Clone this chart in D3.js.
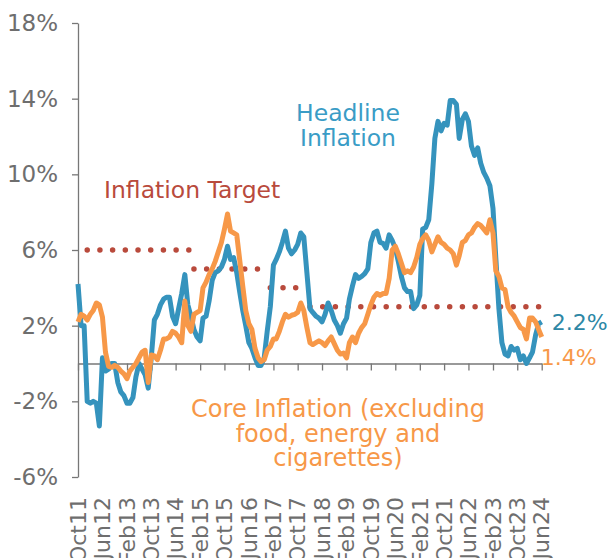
<!DOCTYPE html>
<html>
<head>
<meta charset="utf-8">
<script src="https://cdn.jsdelivr.net/npm/d3@7"></script>
<style>
body { margin: 0; background: #fff; }
text { font-family: "DejaVu Sans", sans-serif; }
</style>
</head>
<body>
<div id="chart"></div>
<script>
// monthly series, Oct 2011 .. Jun 2024 (y/y %)
var firstMonth = "2011-10";
var headline = [
    4.2, 2.0, 2.0, -2.0, -2.1, -2.0, -2.1, -3.3, 0.3, -0.4,
    -0.3, 0.0, 0.0, -1.0, -1.5, -1.7, -2.1, -2.1, -1.8, -0.7,
    0.0, -0.3, -0.6, -1.3, 0.3, 2.3, 2.6, 3.1, 3.4, 3.5,
    3.5, 2.5, 2.1, 2.9, 3.7, 4.7, 3.1, 2.5, 1.8, 1.4,
    1.2, 2.4, 2.5, 3.3, 4.4, 4.8, 4.9, 5.1, 5.5, 6.2,
    5.5, 5.6, 4.8, 3.8, 2.8, 2.0, 1.1, 0.8, 0.3, -0.1,
    -0.1, 0.3, 1.7, 3.0, 5.2, 5.5, 5.9, 6.4, 7.0, 6.1,
    5.8, 6.0, 6.3, 6.9, 6.7, 4.8, 2.9, 2.7, 2.5, 2.4,
    2.2, 2.6, 3.2, 2.8, 2.3, 2.0, 1.6, 2.1, 2.4, 3.4,
    4.1, 4.7, 4.5, 4.6, 4.75, 5.0, 6.4, 6.9, 7.0, 6.4,
    6.35, 6.1, 6.8, 6.5, 6.1, 5.4, 4.6, 4.0, 3.8, 3.8,
    2.9, 3.1, 3.6, 7.1, 7.2, 7.6, 9.5, 11.9, 12.8, 12.3,
    12.7, 12.6, 13.9, 13.9, 13.7, 11.9, 12.9, 13.2, 12.8, 11.5,
    11.0, 11.4, 10.6, 10.1, 9.8, 9.4, 8.2, 5.6, 2.9, 1.1,
    0.5, 0.4, 0.9, 0.7, 0.8, 0.2, 0.4, 0.0, 0.3, 0.6,
    1.5, 2.1, 2.2
];
var core = [
    2.2, 2.6, 2.5, 2.3, 2.6, 2.8, 3.2, 3.1, 2.45, 0.6,
    -0.15, -0.2, -0.1, -0.2, -0.4, -0.55, -0.8, -0.4, -0.2, 0.0,
    0.3, 0.6, 0.7, -1.0, 0.45, 0.4, 0.2, 0.7, 1.3, 1.3,
    1.4, 1.7, 1.6, 1.4, 1.1, 3.3, 2.0, 1.7, 2.6, 2.7,
    2.8, 4.0, 4.3, 4.7, 5.0, 5.4, 5.9, 6.4, 7.1, 7.9,
    7.0, 6.9, 6.8, 5.5, 4.1, 2.8, 2.1, 1.8, 0.8, 0.3,
    0.1, 0.2, 0.7, 0.9, 1.3, 1.3, 1.7, 2.2, 2.6, 2.45,
    2.55, 2.6, 2.7, 3.2, 2.8, 1.9, 1.1, 1.0, 1.1, 1.2,
    1.1, 0.95, 1.2, 1.4, 1.05, 0.7, 0.5, 0.55, 0.3, 1.1,
    1.4, 1.1, 1.6, 1.9, 2.1, 2.6, 3.1, 3.5, 3.7, 3.6,
    3.7, 3.7, 4.5, 6.0, 6.2, 5.8, 5.3, 4.8, 4.9, 4.8,
    5.1, 5.6, 6.3, 6.6, 6.8, 6.5, 5.9, 6.3, 6.7, 6.4,
    6.3, 6.1, 6.0, 5.8, 5.2, 5.7, 6.4, 6.5, 6.8, 6.9,
    7.2, 7.4, 7.3, 7.1, 6.9, 7.6, 6.9, 4.9, 4.6, 4.0,
    3.9, 3.0, 2.7, 2.5, 2.2, 1.9, 1.8, 1.3, 2.4, 2.4,
    2.2, 1.8, 1.4
];

// inflation target periods
var targetValues = [6, 5, 4, 3];
var targetStart = ["2012-01", "2014-12", "2017-01", "2018-02"];
var targetEnd = ["2014-11", "2016-12", "2017-12", "2024-06"];

var yTicks = [-6, -2, 2, 6, 10, 14, 18];
var xTickEvery = 8; // months between x labels

var blue = "#3593bd", orange = "#f79848", red = "#b94a3c", grey = "#777";
var width = 611, height = 558;

var parseMonth = d3.timeParse("%Y-%m");
var start = parseMonth(firstMonth);
var months = headline.map(function (d, i) { return d3.timeMonth.offset(start, i); });

var x = d3.scaleTime()
    .domain([months[0], months[months.length - 1]])
    .range([78, 541.7]);

var y = d3.scaleLinear()
    .domain([-6, 18])
    .range([477, 23]);

var svg = d3.select("#chart")
    .append("svg")
    .attr("width", width)
    .attr("height", height);

// y axis
var yAxis = svg.append("g")
    .attr("transform", "translate(78,0)")
    .call(d3.axisLeft(y).tickValues(yTicks).tickSize(6).tickSizeOuter(0).tickPadding(14)
        .tickFormat(function (d) { return d + "%"; }));
yAxis.selectAll("path, line").attr("stroke", grey).attr("stroke-width", 1.3);
yAxis.selectAll("text")
    .attr("fill", "#6e6e6e")
    .style("font-size", "23px")
    .style("font-family", "DejaVu Sans");

// zero line with ticks
var xTicks = months.filter(function (d, i) { return i % xTickEvery === 0; });
var xAxis = svg.append("g")
    .attr("transform", "translate(0," + y(0) + ")")
    .call(d3.axisBottom(x).tickValues(xTicks).tickSize(7).tickSizeOuter(0).tickFormat(""));
xAxis.selectAll("path, line").attr("stroke", grey).attr("stroke-width", 1.3);

// rotated month labels at the bottom
var fmt = d3.timeFormat("%b%y");
svg.selectAll(".xlab")
    .data(xTicks)
    .enter()
    .append("text")
    .attr("class", "xlab")
    .attr("transform", function (d) { return "translate(" + x(d) + ",497) rotate(-90)"; })
    .attr("dy", "0.35em")
    .attr("text-anchor", "end")
    .attr("fill", "#6e6e6e")
    .style("font-size", "22px")
    .text(function (d) { return fmt(d); });

// inflation target, dotted
targetValues.forEach(function (v, i) {
    svg.append("line")
        .attr("x1", x(parseMonth(targetStart[i])))
        .attr("x2", x(parseMonth(targetEnd[i])) + 1)
        .attr("y1", y(v))
        .attr("y2", y(v))
        .attr("stroke", red)
        .attr("stroke-width", 5.5)
        .attr("stroke-linecap", "round")
        .attr("stroke-dasharray", "0 12.7");
});

var line = d3.line()
    .x(function (d, i) { return x(months[i]); })
    .y(function (d) { return y(d); });

svg.append("path")
    .datum(headline)
    .attr("d", line)
    .attr("fill", "none")
    .attr("stroke", blue)
    .attr("stroke-width", 5)
    .attr("stroke-linejoin", "round");

svg.append("path")
    .datum(core)
    .attr("d", line)
    .attr("fill", "none")
    .attr("stroke", orange)
    .attr("stroke-width", 5)
    .attr("stroke-linejoin", "round");

// annotations
svg.append("text")
    .attr("x", 104).attr("y", 198)
    .attr("fill", red)
    .style("font-size", "23.5px")
    .text("Inflation Target");

svg.selectAll(".hl")
    .data(["Headline", "Inflation"])
    .enter()
    .append("text")
    .attr("x", 348)
    .attr("y", function (d, i) { return 121 + i * 25; })
    .attr("text-anchor", "middle")
    .attr("fill", "#3a9cc6")
    .style("font-size", "23.5px")
    .text(function (d) { return d; });

svg.selectAll(".cl")
    .data(["Core Inflation (excluding", "food, energy and", "cigarettes)"])
    .enter()
    .append("text")
    .attr("x", 338)
    .attr("y", function (d, i) { return 417 + i * 24.5; })
    .attr("text-anchor", "middle")
    .attr("fill", orange)
    .style("font-size", "24px")
    .text(function (d) { return d; });

// last values
var last = months.length - 1;
svg.append("text")
    .attr("x", x(months[last]) + 10)
    .attr("y", y(headline[last]))
    .attr("dy", "0.35em")
    .attr("fill", "#2d87a5")
    .style("font-size", "22px")
    .text(headline[last].toFixed(1) + "%");

svg.append("text")
    .attr("x", x(months[last]) - 1)
    .attr("y", y(core[last]) + 20)
    .attr("dy", "0.35em")
    .attr("fill", orange)
    .style("font-size", "22px")
    .text(core[last].toFixed(1) + "%");
</script>
</body>
</html>
